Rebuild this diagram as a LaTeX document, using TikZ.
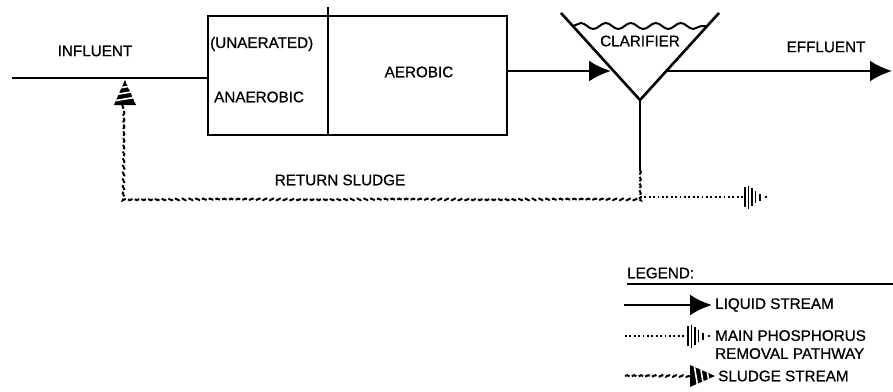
\documentclass[tikz,border=0pt]{standalone}
\usepackage{fontspec}
\setmainfont{Liberation Sans}
\newfontfamily\lblfont[FakeBold=0.8]{Liberation Sans}
\usetikzlibrary{arrows.meta,decorations.pathmorphing}
\tikzset{
  pipe/.style={line width=2.6bp},
  liquid/.style={line width=2.6bp,-{Latex[length=22bp,width=21bp]}},
  sludge/.style={line width=2bp,dash pattern=on 5bp off 2.4bp,
    decorate,decoration={snake,amplitude=0.8bp,segment length=7bp}},
  phos/.style={line width=2bp,dash pattern=on 1.8bp off 2.6bp},
  lbl/.style={font=\lblfont\fontsize{15.3}{17}\selectfont,inner sep=0pt},
  phos tip/.pic={
    \foreach \x/\h in {0/10,3.5/11.5,7/9,10.5/6,15/3.5}
      \draw[line width=1.8bp] (\x,-\h) -- (\x,\h);
    \fill (21,0) circle (1.4bp);
  },
  sludge tip/.pic={
    \begin{scope}
      \clip (0,0) -- (-25,-11) -- (-25,11) -- cycle;
      \fill (0,0) -- (-25,-11) -- (-25,11) -- cycle;
      \foreach \s in {-21,-15,-9}
        \draw[white,line width=1.6bp] (\s,-12) -- ++(4,24);
    \end{scope}
  }
}
\begin{document}
\begin{tikzpicture}[x=1bp,y=-1bp]
  \useasboundingbox (0,0) rectangle (893,391);
  % basin
  \node[draw,line width=2.6bp,minimum width=299bp,minimum height=119bp,inner sep=0pt] (tank) at (357.5,75.5) {};
  \coordinate (divtop) at (328,7);
  \draw[pipe] (divtop) -- (divtop |- tank.south);
  \node[lbl,anchor=west] (unaer) at (210,44) {(UNAERATED)};
  \node[lbl,anchor=west] (anaer) at (214,97) {ANAEROBIC};
  \node[lbl] (aer) at (419,72) {AEROBIC};
  % clarifier
  \coordinate (cl) at (561,13);
  \coordinate (cr) at (719,13);
  \coordinate (apex) at (640,100);
  \draw[pipe] (cl) -- (apex) -- (cr);
  \draw[line width=2bp,decorate,decoration={snake,amplitude=3bp,segment length=25bp}] (573,26) -- (707,26);
  \node[lbl] (clar) at (640,41) {CLARIFIER};
  \coordinate (clin) at (611,71);
  \coordinate (clout) at (667,71);
  % liquid stream
  \coordinate (inf) at (12,78);
  \draw[pipe] (inf) -- (inf -| tank.west);
  \node[lbl] (influent) at (95,51) {INFLUENT};
  \draw[liquid] (tank.east |- clin) -- (clin);
  \coordinate (eff) at (892,71);
  \draw[liquid] (clout) -- (eff);
  \node[lbl] (effluent) at (826,47) {EFFLUENT};
  % return sludge
  \coordinate (rs) at (640,197);
  \coordinate (rl) at (122,197);
  \coordinate (rtip) at (125,80);
  \draw[pipe] (apex) -- (640,170);
  \draw[sludge] (640,170) -- (rs) -- (rl) -- (122,103);
  \pic[rotate=90] at (rtip) {sludge tip};
  \node[lbl] (ret) at (340,180) {RETURN SLUDGE};
  \coordinate (pend) at (745,197);
  \draw[phos] (rs) -- (pend);
  \pic at (pend) {phos tip};
  % legend
  \node[lbl,anchor=west] (leg) at (627,273) {LEGEND:};
  \draw[pipe] (627,284) -- (893,284);
  \draw[liquid] (624,305) -- (712,305);
  \node[lbl,anchor=west] (legliq) at (715,305) {LIQUID STREAM};
  \draw[phos] (625,336) -- (688,336);
  \pic at (688,336) {phos tip};
  \node[lbl,anchor=north west,align=left] (legphos) at (715,330) {MAIN PHOSPHORUS\\[1bp]REMOVAL PATHWAY};
  \draw[sludge] (625,376) -- (692,376);
  \pic at (715,376) {sludge tip};
  \node[lbl,anchor=west] (legsl) at (718,376) {SLUDGE STREAM};
\end{tikzpicture}
\end{document}
